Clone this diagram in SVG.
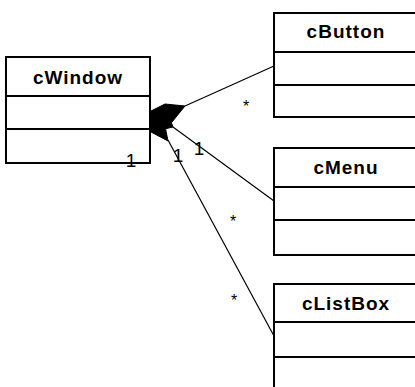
<svg xmlns="http://www.w3.org/2000/svg" width="415" height="387" viewBox="0 0 415 387">
  <style>
    .box { fill: #ffffff; stroke: #000000; stroke-width: 2; }
    .sep { stroke: #000000; stroke-width: 2; }
    .title { font-family: "Liberation Sans", Arial, sans-serif; font-weight: bold; font-size: 19px; letter-spacing: 1px; text-anchor: middle; fill: #000000; }
    .link { stroke: #000000; stroke-width: 1.2; fill: none; }
    .diamond { fill: #000000; stroke: #000000; stroke-width: 1; stroke-linejoin: round; }
    .mult { font-family: "Liberation Sans", Arial, sans-serif; font-size: 19px; text-anchor: middle; fill: #000000; }
    .star { font-family: "Liberation Sans", Arial, sans-serif; font-size: 16px; text-anchor: middle; fill: #000000; }
  </style>

  <g id="cWindow">
    <rect class="box" x="6" y="57" width="144" height="106"/>
    <line class="sep" x1="6" y1="96" x2="150" y2="96"/>
    <line class="sep" x1="6" y1="129" x2="150" y2="129"/>
    <text class="title" x="78" y="84">cWindow</text>
  </g>

  <g id="cButton">
    <rect class="box" x="274" y="13" width="144" height="104"/>
    <line class="sep" x1="274" y1="52" x2="418" y2="52"/>
    <line class="sep" x1="274" y1="85" x2="418" y2="85"/>
    <text class="title" x="346" y="38">cButton</text>
  </g>

  <g id="cMenu">
    <rect class="box" x="274" y="148" width="144" height="107"/>
    <line class="sep" x1="274" y1="187" x2="418" y2="187"/>
    <line class="sep" x1="274" y1="220" x2="418" y2="220"/>
    <text class="title" x="346" y="174">cMenu</text>
  </g>

  <g id="cListBox">
    <rect class="box" x="274" y="284" width="144" height="108"/>
    <line class="sep" x1="274" y1="322" x2="418" y2="322"/>
    <line class="sep" x1="274" y1="357" x2="418" y2="357"/>
    <text class="title" x="346" y="310">cListBox</text>
  </g>

  <!-- composition links: cWindow owns buttons, menus and list boxes -->
  <g id="connectors">
    <line class="link" x1="185" y1="106" x2="274" y2="66"/>
    <line class="link" x1="173" y1="127" x2="274" y2="201"/>
    <line class="link" x1="168" y1="140" x2="274" y2="336"/>
    <polygon class="diamond" points="151,111 165,104 185,106 172,122 151,124"/>
    <polygon class="diamond" points="151,112 168,114 173,127 160,130 151,128"/>
    <polygon class="diamond" points="151,118 165,126 168,141 151,132"/>
    <text class="mult" x="131" y="167">1</text>
    <text class="mult" x="178" y="162">1</text>
    <text class="mult" x="199" y="155">1</text>
    <text class="star" x="246" y="112">*</text>
    <text class="star" x="233" y="227">*</text>
    <text class="star" x="234" y="306">*</text>
  </g>
</svg>
